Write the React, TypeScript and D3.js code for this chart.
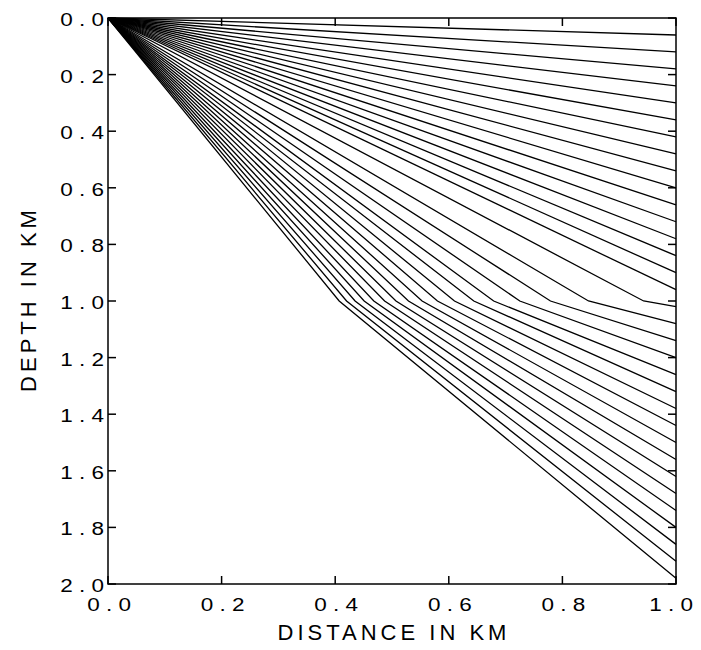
import React from "react";
import * as d3 from "d3";

// Ray endpoints at distance 1.0 km for rays that stay in the upper layer (depth in km)
const upperEndDepths = [0.06, 0.12, 0.18, 0.24, 0.30, 0.36, 0.42, 0.48, 0.54, 0.60, 0.66, 0.72, 0.78, 0.84, 0.90, 0.96];
// Rays that cross the interface: endpoint depth at distance 1.0 km
const lowerEndDepths = [1.02, 1.08, 1.14, 1.20, 1.26, 1.32, 1.38, 1.44, 1.50, 1.56, 1.62, 1.68, 1.74, 1.80, 1.86, 1.92, 1.98];
// Distance (km) where each of those rays crosses the interface
const lowerCrossX = [0.943, 0.846, 0.779, 0.725, 0.679, 0.644, 0.61, 0.58, 0.553, 0.529, 0.507, 0.487, 0.468, 0.451, 0.435, 0.42, 0.407];
const interfaceDepth = 1.0;
const sourceX = 0.0;
const sourceDepth = 0.0;
const receiverX = 1.0;

const xTicks = [0.0, 0.2, 0.4, 0.6, 0.8, 1.0];
const yTicks = [0.0, 0.2, 0.4, 0.6, 0.8, 1.0, 1.2, 1.4, 1.6, 1.8, 2.0];
const xTitle = "DISTANCE IN KM";
const yTitle = "DEPTH IN KM";

const W = 701;
const H = 650;
const M = { left: 108, right: 676, top: 18, bottom: 584 };

export default function App() {
  const x = d3.scaleLinear().domain([0, 1]).range([M.left, M.right]);
  const y = d3.scaleLinear().domain([0, 2]).range([M.top, M.bottom]);
  const line = d3
    .line<[number, number]>()
    .x((d) => x(d[0]))
    .y((d) => y(d[1]));

  const rays: [number, number][][] = [];
  upperEndDepths.forEach((z) => {
    rays.push([
      [sourceX, sourceDepth],
      [receiverX, z],
    ]);
  });
  lowerEndDepths.forEach((z, i) => {
    rays.push([
      [sourceX, sourceDepth],
      [lowerCrossX[i], interfaceDepth],
      [receiverX, z],
    ]);
  });

  const tickLen = 8;
  const font = "'Liberation Sans', Arial, Helvetica, sans-serif";
  const fmt = d3.format(".1f");
  const sx = 1.25;
  const ls = 5;
  const halfLabel = 22;

  return (
    <svg
      width={W}
      height={H}
      style={{ position: "absolute", left: 0, top: 0, background: "#fff" }}
    >
      <rect x={0} y={0} width={W} height={H} fill="#fff" />
      <g fill="none" stroke="#000" strokeWidth={1.3}>
        {rays.map((r, i) => (
          <path key={i} d={line(r) || ""} />
        ))}
      </g>
      <rect
        x={M.left}
        y={M.top}
        width={M.right - M.left}
        height={M.bottom - M.top}
        fill="none"
        stroke="#000"
        strokeWidth={1.5}
      />
      <g stroke="#000" strokeWidth={1.5}>
        {xTicks.map((t) => (
          <g key={"xt" + t}>
            <line x1={x(t)} x2={x(t)} y1={M.bottom} y2={M.bottom - tickLen} />
            <line x1={x(t)} x2={x(t)} y1={M.top} y2={M.top + tickLen} />
          </g>
        ))}
        {yTicks.map((t) => (
          <g key={"yt" + t}>
            <line x1={M.left} x2={M.left + tickLen} y1={y(t)} y2={y(t)} />
            <line x1={M.right} x2={M.right - tickLen} y1={y(t)} y2={y(t)} />
          </g>
        ))}
      </g>
      <g fontFamily={font} fontSize={18} fill="#000">
        {yTicks.map((t) => (
          <text
            key={"yl" + t}
            transform={`translate(${M.left - 4},${y(t) + 8}) scale(${sx},1)`}
            textAnchor="end"
            letterSpacing={ls}
            dx={ls}
          >
            {fmt(t)}
          </text>
        ))}
        {xTicks.map((t) => (
          <text
            key={"xl" + t}
            transform={`translate(${Math.min(x(t) + 1, W - 8 - halfLabel)},${M.bottom + 27}) scale(${sx},1)`}
            textAnchor="middle"
            letterSpacing={ls}
            dx={ls / 2}
          >
            {fmt(t)}
          </text>
        ))}
      </g>
      <g fontFamily={font} fontSize={22} fill="#000">
        <text
          x={(M.left + M.right) / 2}
          y={640}
          textAnchor="middle"
          letterSpacing={4}
          dx={2}
        >
          {xTitle}
        </text>
        <text
          transform={`translate(36,${(M.top + M.bottom) / 2}) rotate(-90)`}
          textAnchor="middle"
          letterSpacing={4}
          dx={2}
        >
          {yTitle}
        </text>
      </g>
    </svg>
  );
}
